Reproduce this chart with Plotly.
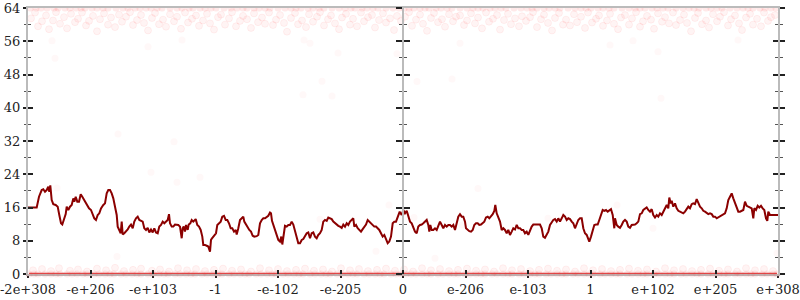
import plotly.graph_objects as go

# ---- axis ticks ----
tick_pos = [-375, -312.5, -250, -187.5, -125, -62.5, 0, 62.5, 125, 187.5, 250, 312.5, 375]
tick_text = ["-2e+308", "-e+206", "-e+103", "-1", "-e-102", "-e-205", "0",
             "e-206", "e-103", "1", "e+102", "e+205", "e+308"]

# ---- main (dark red) series: position along ordered-double axis, value ----
pos = [-375, -366.3, -364, -361.3, -359.7, -358, -356.3, -354.7, -353.7, -352.7, -351.3, -349.7, -347.3, -345.3,
       -343.7, -342, -340.7, -338.7, -337.3, -336.3, -334.7, -333, -331.3, -329.7, -328.7, -327.3, -325.7, -324,
       -322.3, -320.7, -318.7, -316.3, -314, -312, -310.3, -308.7, -307, -305.3, -303.7, -302, -299.7, -298,
       -296.3, -294.7, -293, -291.3, -289.7, -288, -286.3, -285.3, -283.7, -282.3, -281.3, -280.3, -278.7, -277,
       -275.3, -273.7, -272, -270.3, -268.7, -267, -265.3, -263.7, -262, -260.3, -258.7, -257, -255.3, -253.7,
       -252, -250.3, -248.7, -247, -245.3, -243.7, -242, -240.3, -238.7, -237, -235.3, -234, -233, -231.3,
       -229.7, -228, -226.3, -224.7, -223, -221.3, -220.3, -219.3, -218, -217, -215.3, -214.3, -212.7, -211.3,
       -209.7, -207.3, -205.7, -204, -202.3, -200.7, -199.7, -198, -196.3, -194.7, -193, -192,
       -191, -189, -187, -185.7, -184, -182.3, -180.7, -179, -177.3, -175.7, -174, -172.3, -170.7, -169, -167.3,
       -166.3, -164.7, -163, -161.3, -159.7, -158.7, -157, -155.3, -153.7, -152, -150.3, -148.7, -146.3, -144.7,
       -143, -141.3, -139.7, -138, -136.3, -134.7, -133, -132, -131, -129.7, -128, -126.3, -124.7, -123, -121.7,
       -120.7, -119.3, -118, -116.3, -114.7, -113, -111.3, -109.7, -108, -106.3, -104.7, -103, -101.3, -99.7,
       -98, -96.3, -94.7, -93, -91.3, -89.7, -88, -86.3, -84.7, -83, -81.3, -79.7, -78, -76.3, -74.7, -73,
       -71.3, -69.7, -68, -66.3, -64.7, -63, -61.3, -59.7, -58, -56.3, -54.7, -53, -51.3, -49.7, -48.7, -47,
       -45.3, -43.7, -42, -40.3, -38.7, -37, -35.3, -33.7, -32, -30.3, -28.7, -27, -25.3, -23.7, -22, -20.3,
       -18.7, -17, -15.3, -13.7, -12, -10.3, -8.7, -7, -5.3, -3.3,
       -3, -1.3, 0.3, 2, 3.7, 5.3, 7, 8.7, 10.3, 12, 13.7, 15.3, 17, 18.7, 20.3, 22, 23.7, 25.3, 26.3, 27.3,
       28.7, 30.3, 32, 33.7, 35.3, 37, 38.7, 40.3, 42, 43.7, 45.3, 47, 48.7, 50.3, 52, 53.7, 55.3, 57, 58.7,
       60.3, 62, 63, 64.7, 66.3, 68, 69.7, 71.3, 73, 74.7, 76.3, 78, 79.7, 81.3, 83, 84.7, 86.3, 88, 89.7,
       91.3, 92.3, 93.7, 95.3, 97, 98.7, 100.3, 102, 103.7, 105.3, 107, 108.7, 110.3, 112, 113.7, 115.3, 117,
       118.7, 120.3, 122, 123.7, 125.3, 127, 128.7, 130.3, 133.7, 137, 138.7, 140.3, 142, 143.7, 145.3, 147,
       148.7, 150.3, 152, 153.7, 155.3, 157, 158.7, 160.3, 162, 163.7, 165.3, 167, 168.7, 170.3, 172, 173.7,
       175.3, 177,
       178.7, 180.3, 182, 183.7, 185.3, 186.3, 188, 189.7, 191.3, 193, 194.7, 196.3, 198, 199.7, 201.3, 203,
       204.7, 206.3, 208, 209.7, 211.3, 212, 213.7, 215.3, 217, 218.7, 220.3, 222, 223.7, 225.3, 227, 228.7,
       230.3, 232, 233.7, 235.3, 237, 238.7, 240.3, 242, 243.7, 245.3, 247, 248.7, 250.3, 252, 253.7, 255.3,
       257, 258.7, 260.3, 262, 263.7, 265.3, 266.3, 267.7, 268.7, 270.3, 272, 273.7, 275.3, 277, 278.7, 280.3,
       282, 283.7, 285.3, 287, 288.7, 290.3, 292, 293.7, 295.3, 297, 298.7, 300.3, 302, 303.7, 305.3, 307,
       308.7, 310.3, 312, 313.7, 315.3, 317, 318.7, 320.3, 322, 323.7, 325.3, 327, 328.7, 330.3, 332, 333.7,
       335.3, 337, 338.7, 340.3, 342, 343.7, 345.3, 347, 348.7, 350.3, 351.3, 353, 354.7, 356.3, 358, 359.7,
       361.3, 363, 364.3, 365.3, 367, 370.3, 375]

val = [16.0, 16.0, 18.6, 20.2, 20.4, 19.8, 20.2, 21.0, 19.8, 21.3, 17.8, 16.8, 16.6, 16.2,
       14.2, 12.2, 11.9, 13.8, 14.4, 16.2, 15.4, 16.2, 16.6, 18.2, 17.4, 18.6, 17.4, 17.4,
       19.2, 18.6, 17.8, 17.0, 15.8, 15.4, 14.2, 13.4, 13.0, 14.2, 14.6, 15.8, 16.6, 17.0,
       19.4, 20.2, 20.2, 19.4, 18.2, 15.8, 14.2, 11.4, 10.6, 9.8, 12.6, 9.5, 9.8, 10.2,
       10.7, 11.4, 11.9, 11.0, 12.6, 13.4, 13.8, 13.0, 12.8, 12.6, 11.0, 10.6, 11.1, 10.0,
       10.7, 10.0, 11.0, 10.0, 9.8, 11.4, 11.8, 12.6, 12.2, 12.6, 13.0, 14.4, 12.2, 11.4,
       11.4, 11.9, 11.8, 11.8, 11.4, 8.6, 11.0, 11.4, 10.2, 11.8, 10.6, 11.9, 12.2, 13.0,
       12.6, 13.2, 11.8, 11.4, 10.6, 9.0, 7.0, 7.0, 6.8, 6.6, 5.4, 8.2,
       8.6, 9.2, 9.8, 11.8, 12.2, 12.6, 13.8, 14.0, 13.0, 13.0, 12.2, 11.0, 11.0, 10.2, 10.6,
       9.5, 11.0, 13.0, 13.4, 13.8, 12.6, 11.9, 11.4, 10.6, 10.2, 9.2, 9.0, 9.1, 9.4,
       12.2, 13.0, 13.4, 13.4, 13.8, 14.0, 14.8, 14.6, 12.8, 11.8, 10.2, 9.0, 8.2, 7.8, 9.0,
       7.1, 9.4, 11.6, 11.4, 11.8, 11.8, 12.6, 11.9, 10.2, 8.6, 7.4, 7.4, 8.2, 8.4,
       9.0, 9.8, 10.0, 8.6, 9.8, 10.0, 9.0, 8.6, 9.4, 9.8, 10.6, 12.6, 13.0, 12.8, 13.6, 13.4,
       13.2, 12.6, 12.2, 11.9, 11.6, 11.4, 11.1, 11.9, 11.4, 12.2, 11.8, 12.6, 13.0, 13.4, 11.4, 11.8,
       11.0, 10.6, 10.2, 10.8, 11.4, 11.9, 13.0, 12.6, 12.2, 11.8, 11.4, 11.4, 11.0, 10.6, 9.8, 9.0,
       9.4, 8.2, 7.4, 7.8, 9.0, 12.2, 12.6, 12.6, 13.8, 15.0,
       14.8, 14.2, 15.4, 14.6, 15.2, 13.8, 12.6, 12.2, 11.4, 10.2, 9.8, 11.4, 11.8, 11.9, 12.2, 12.6, 13.0, 11.8, 10.2, 11.8,
       10.6, 10.6, 11.0, 10.6, 11.4, 12.6, 11.8, 11.0, 11.8, 11.4, 11.8, 11.8, 11.4, 11.8, 10.6, 12.6, 13.8, 14.4, 13.8,
       13.8, 12.6, 11.0, 10.6, 10.3, 10.2, 10.6, 11.8, 12.2, 12.2, 11.8, 11.9, 12.2, 12.6, 13.6, 13.8, 13.4, 13.8, 14.4,
       15.2, 16.6, 14.6, 13.8, 12.6, 10.6, 11.0, 10.6, 9.8, 10.6, 9.4, 10.2, 11.0, 10.7, 11.8, 11.0, 11.0,
       10.6, 10.6, 9.8, 10.2, 9.4, 10.6, 11.4, 11.9, 11.9, 11.9, 11.0, 9.0, 8.7, 9.4, 10.2, 11.8,
       12.6, 13.0, 13.2, 12.6, 13.4, 12.6, 13.4, 14.2, 13.8, 13.0, 13.4, 13.2, 12.6, 12.2, 11.0, 12.2,
       13.0, 13.4,
       13.4, 11.0, 9.8, 9.4, 8.6, 7.8, 9.0, 10.2, 11.8, 11.9, 11.9, 13.0, 14.2, 15.4, 15.2, 15.4,
       15.0, 15.4, 15.6, 14.2, 11.0, 13.4, 11.8, 11.4, 11.1, 11.8, 12.6, 13.0, 12.6, 11.4, 11.1, 11.8,
       11.8, 11.9, 12.2, 12.6, 14.4, 14.6, 15.4, 15.8, 16.0, 15.4, 15.0, 15.6, 14.2, 13.6, 14.2, 13.8,
       14.6, 14.2, 15.0, 15.8, 16.6, 15.8, 18.4, 17.0, 17.6, 16.2, 17.0, 15.8, 15.2, 15.0, 14.8, 14.6,
       15.0, 15.8, 16.2, 15.8, 16.8, 17.0, 16.8, 18.0, 17.0, 16.2, 15.8, 15.2, 15.0, 14.6, 14.4, 14.6,
       14.4, 13.8, 13.8, 13.4, 13.6, 13.8, 14.2, 14.2, 14.6, 15.8, 17.8, 18.6, 19.4, 18.2, 17.0, 15.8,
       15.0, 15.0, 15.2, 15.4, 17.4, 16.4, 16.2, 16.0, 15.8, 13.4, 15.8, 15.4, 16.4, 16.0, 16.4, 15.8,
       15.4, 13.4, 12.8, 15.0, 14.2, 14.2, 14.2]

# ---- faint red sample points ----
zero_pos = [-374, -369, -365, -358, -352, -347, -343, -336, -331, -326, -320, -316, -309, -304, -298, -293,
            -289, -282, -277, -271, -266, -262, -255, -250, -244, -239, -235, -228, -223, -217, -212, -208,
            -201, -196, -190, -185, -181, -174, -169, -163, -158, -154, -147, -142, -136, -131, -127, -120,
            -115, -109, -104, -100, -93, -88, -82, -77, -73, -66, -61, -55, -50, -46, -39, -34, -28, -23,
            -19, -12, -7, -2, 3, 8, 13, 19, 24, 28, 35, 40, 46, 51, 55, 62, 67, 73, 78, 82, 89, 94, 100,
            105, 109, 116, 121, 127, 132, 136, 143, 148, 154, 159, 163, 170, 175, 181, 186, 190, 197, 202,
            208, 213, 217, 224, 229, 235, 240, 244, 251, 256, 262, 267, 271, 278, 283, 289, 294, 298, 305,
            310, 316, 321, 325, 332, 337, 343, 348, 352, 359, 364, 370, 374]

top_pos = [-373, -367, -362, -356, -349, -345, -338, -333, -327, -322, -318, -311, -306, -300, -295, -287,
           -280, -275, -268, -263, -257, -252, -246, -241, -233, -226, -221, -214, -210, -203, -198, -192,
           -187, -179, -172, -166, -160, -156, -149, -144, -138, -133, -125, -118, -112, -107, -102, -95,
           -90, -84, -79, -71, -64, -58, -52, -48, -41, -36, -30, -25, -17, -10, -4, 1, 6, 11, 17, 22, 26,
           33, 38, 44, 49, 57, 64, 70, 75, 80, 87, 92, 98, 103, 111, 118, 124, 129, 134, 141, 146, 152, 157,
           165, 172, 178, 183, 188, 195, 200, 206, 211, 219, 226, 232, 237, 242, 249, 254, 260, 265, 273,
           280, 286, 291, 296, 303, 308, 314, 319, 327, 334, 340, 345, 350, 357, 362, 368, 373]

upper_pts = [
    (-372, 61.5), (-368, 62.9), (-365, 59.6), (-361, 60.8), (-357, 62.2), (-354, 58.9), (-350, 61.0), (-347, 63.0), (-343, 60.2), (-339, 61.8),
    (-336, 59.1), (-332, 62.6), (-328, 60.6), (-325, 61.4), (-321, 62.9), (-317, 59.8), (-314, 60.9), (-310, 62.1), (-306, 58.4), (-303, 61.3),
    (-299, 62.7), (-295, 60.0), (-292, 61.7), (-288, 59.4), (-284, 62.4), (-281, 60.7), (-277, 61.9), (-273, 63.0), (-270, 59.9), (-266, 61.1),
    (-262, 62.3), (-259, 60.4), (-255, 58.6), (-251, 61.6), (-248, 62.8), (-244, 60.1), (-240, 61.2), (-237, 59.5), (-233, 62.5), (-229, 60.8),
    (-226, 61.9), (-222, 59.0), (-218, 62.9), (-215, 60.5), (-211, 61.4), (-207, 62.2), (-204, 59.7), (-200, 61.0), (-196, 62.6), (-193, 60.3),
    (-189, 58.8), (-185, 61.8), (-182, 62.4), (-178, 60.0), (-174, 61.5), (-171, 63.0), (-167, 59.6), (-163, 60.9), (-160, 62.1), (-156, 61.3),
    (-152, 59.2), (-149, 62.7), (-145, 60.6), (-141, 61.7), (-138, 60.2), (-134, 62.9), (-130, 59.9), (-127, 61.2), (-123, 62.3), (-119, 60.4),
    (-116, 58.3), (-112, 61.6), (-108, 62.8), (-105, 60.1), (-101, 61.0), (-97, 59.4), (-94, 62.5), (-90, 60.7), (-86, 61.9), (-83, 63.0),
    (-79, 59.8), (-75, 61.3), (-72, 62.2), (-68, 60.3), (-64, 58.9), (-61, 61.7), (-57, 62.6), (-53, 60.0), (-50, 61.4), (-46, 59.6),
    (-42, 62.9), (-39, 60.8), (-35, 61.8), (-31, 62.3), (-28, 59.3), (-24, 61.1), (-20, 62.7), (-17, 60.5), (-13, 61.5), (-9, 58.7),
    (-6, 62.1), (-2, 60.9), (2, 61.9), (6, 63.0), (9, 59.7), (13, 61.2), (17, 62.4), (20, 60.2), (24, 58.5), (28, 61.6),
    (31, 62.8), (35, 60.6), (39, 61.3), (42, 59.5), (46, 62.5), (50, 60.8), (53, 61.9), (57, 62.2), (61, 59.9), (64, 61.0),
    (68, 62.7), (72, 60.3), (75, 61.7), (79, 59.1), (83, 62.9), (86, 60.7), (90, 61.4), (94, 62.3), (97, 58.8), (101, 61.1),
    (105, 62.6), (108, 60.1), (112, 61.5), (116, 59.6), (119, 62.0), (123, 60.9), (127, 61.8), (130, 63.0), (134, 59.4), (138, 61.3),
    (141, 62.4), (145, 60.4), (149, 58.6), (152, 61.6), (156, 62.8), (160, 60.0), (163, 61.2), (167, 59.8), (171, 62.5), (174, 60.6),
    (178, 61.9), (182, 59.2), (185, 62.9), (189, 60.5), (193, 61.4), (196, 62.2), (200, 59.7), (204, 61.0), (207, 62.6), (211, 60.2),
    (215, 58.9), (218, 61.7), (222, 62.3), (226, 60.0), (229, 61.5), (233, 63.0), (237, 59.5), (240, 60.8), (244, 62.1), (248, 61.2),
    (251, 59.0), (255, 62.7), (259, 60.7), (262, 61.8), (266, 60.3), (270, 62.9), (273, 59.9), (277, 61.1), (281, 62.4), (284, 60.4),
    (288, 58.4), (292, 61.6), (295, 62.8), (299, 60.1), (303, 61.0), (306, 59.3), (310, 62.5), (314, 60.8), (317, 61.9), (321, 63.0),
    (325, 59.8), (328, 61.3), (332, 62.2), (336, 60.3), (339, 58.7), (343, 61.7), (347, 62.6), (350, 60.0), (354, 61.4), (358, 59.6),
    (361, 62.9), (365, 60.9), (368, 61.8), (372, 62.3),
]

low_pts = [
    (-370, 0.9), (-361, 1.2), (-352, 0.7), (-344, 1.4), (-333, 0.8), (-325, 1.1), (-316, 0.6), (-306, 1.3), (-297, 0.9), (-288, 1.5),
    (-279, 0.7), (-270, 1.0), (-262, 1.3), (-251, 0.8), (-243, 1.1), (-234, 0.6), (-225, 1.4), (-216, 0.9), (-207, 1.2), (-198, 0.7),
    (-189, 1.0), (-180, 1.3), (-171, 0.8), (-162, 1.1), (-152, 0.6), (-143, 1.4), (-134, 0.9), (-125, 1.2), (-116, 0.7), (-107, 1.0),
    (-98, 1.3), (-89, 0.8), (-80, 1.1), (-71, 0.6), (-62, 1.4), (-53, 0.9), (-44, 1.2), (-35, 0.7), (-26, 1.0), (-17, 1.3),
    (-8, 0.8), (1, 1.1), (10, 0.6), (19, 1.4), (28, 0.9), (37, 1.2), (46, 0.7), (55, 1.0), (64, 1.3), (73, 0.8),
    (82, 1.1), (91, 0.6), (100, 1.4), (109, 0.9), (118, 1.2), (127, 0.7), (136, 1.0), (145, 1.3), (154, 0.8), (163, 1.1),
    (172, 0.6), (181, 1.4), (190, 0.9), (199, 1.2), (208, 0.7), (217, 1.0), (226, 1.3), (235, 0.8), (244, 1.1), (253, 0.6),
    (262, 1.4), (271, 0.9), (280, 1.2), (289, 0.7), (298, 1.0), (307, 1.3), (316, 0.8), (325, 1.1), (334, 0.6), (343, 1.4),
    (352, 0.9), (361, 1.2), (370, 0.7),
]

stray_pts = [
    (-285, 33.7), (-229, 31.8), (-252, 24.5), (-226, 22.1), (-346, 20.7), (-203, 23.3), (-286, 4.2), (-83, 13.2),
    (-14, 16.6), (-27, 5.5), (75, 20.6), (11, 13.6), (145, 13.4), (59, 11.8), (32, 3.8), (214, 16.6), (250, 11.0),
    (374, 5.0), (-65, 53.2), (-81, 46.4), (14, 46.3), (49, 46.9), (-100, 43.1), (-71, 42.8), (-6, 53.0), (57, 55.5),
    (-99, 56.3), (-93, 55.5), (-351, 56.1), (-348, 51.9), (-255, 54.7), (-221, 56.3), (207, 55.1), (230, 56.1),
    (255, 53.5), (258, 42.3), (335, 56.3),
]

FONT = dict(family="DejaVu Serif, Liberation Serif, serif", size=13, color="#222")
FRAME = "#bbbbbb"
TICK = "#222222"

fig = go.Figure()

faint = dict(color="rgba(255,60,60,0.06)", size=7, line=dict(color="rgba(255,0,0,0.05)", width=1))

fig.add_trace(go.Scatter(x=[p[0] for p in upper_pts], y=[p[1] for p in upper_pts], mode="markers",
                         marker=faint, cliponaxis=False, hoverinfo="skip"))
fig.add_trace(go.Scatter(x=[p[0] for p in stray_pts], y=[p[1] for p in stray_pts], mode="markers",
                         marker=dict(color="rgba(255,60,60,0.035)", size=7), cliponaxis=False, hoverinfo="skip"))
fig.add_trace(go.Scatter(x=[p[0] for p in low_pts], y=[p[1] for p in low_pts], mode="markers",
                         marker=faint, cliponaxis=False, hoverinfo="skip"))
fig.add_trace(go.Scatter(x=top_pos, y=[64] * len(top_pos), mode="markers",
                         marker=dict(color="rgba(255,40,40,0.10)", size=7), cliponaxis=True, hoverinfo="skip"))
fig.add_trace(go.Scatter(x=zero_pos, y=[0] * len(zero_pos), mode="lines+markers",
                         line=dict(color="rgba(220,40,40,0.85)", width=2.5),
                         marker=dict(color="rgba(235,60,60,0.10)", size=7), cliponaxis=False, hoverinfo="skip"))
fig.add_trace(go.Scatter(x=pos, y=val, mode="lines", line=dict(color="#8b0000", width=2),
                         cliponaxis=True, hoverinfo="skip"))

# invisible anchors so the extra tick axes get drawn
for ax in ["x2", "y2", "y3", "y4", "y5", "y6"]:
    xa = "x2" if ax == "x2" else "x"
    ya = "y" if ax == "x2" else ax
    fig.add_trace(go.Scatter(x=pos[:1], y=val[:1], xaxis=xa, yaxis=ya, mode="markers",
                             marker=dict(opacity=0), hoverinfo="skip", showlegend=False))

yt = dict(range=[0, 64], tick0=0, dtick=8, showgrid=False, zeroline=False, tickcolor=TICK, tickwidth=1.5,
          automargin=False)
minor_out = dict(ticks="outside", dtick=4, tick0=0, ticklen=2, tickcolor="#555", tickwidth=1)
minor_in = dict(ticks="inside", dtick=4, tick0=0, ticklen=3, tickcolor="#555", tickwidth=1)

fig.update_layout(
    width=800, height=300,
    margin=dict(l=28, r=22, t=8, b=26, autoexpand=False),
    paper_bgcolor="white", plot_bgcolor="white",
    showlegend=False,
    font=FONT,
    xaxis=dict(range=[-375, 375], tickmode="array", tickvals=tick_pos, ticktext=tick_text, automargin=False,
               ticklabeloverflow="allow", layer="below traces",
               showgrid=False, zeroline=False, showline=True, linecolor=FRAME, linewidth=2, mirror=True,
               ticks="outside", ticklen=2, tickcolor=TICK, tickwidth=1.5, tickfont=FONT),
    xaxis2=dict(range=[-375, 375], overlaying="x", anchor="y", side="bottom", tickmode="array", automargin=False,
                tickvals=tick_pos, showticklabels=False, showgrid=False, zeroline=False, showline=False,
                ticks="inside", ticklen=4, tickcolor=TICK, tickwidth=1.5),
    yaxis=dict(**yt, showline=True, linecolor=FRAME, linewidth=2, ticks="outside", ticklen=3,
               minor=minor_out, tickfont=FONT, anchor="x", side="left", ticklabeloverflow="allow"),
    yaxis2=dict(**yt, overlaying="y", anchor="x", side="left", showline=False, ticks="inside", ticklen=5,
                minor=minor_in, showticklabels=False),
    yaxis3=dict(**yt, overlaying="y", anchor="free", position=0.5, side="left", showline=True,
                linecolor=FRAME, linewidth=2, ticks="outside", ticklen=6,
                minor=dict(minor_out, ticklen=3), showticklabels=False),
    yaxis4=dict(**yt, overlaying="y", anchor="free", position=0.5, side="left", showline=False,
                ticks="inside", ticklen=6, minor=dict(minor_in, ticklen=3), showticklabels=False),
    yaxis5=dict(**yt, overlaying="y", anchor="x", side="right", showline=True, linecolor=FRAME, linewidth=2,
                ticks="outside", ticklen=5, minor=dict(minor_out, ticklen=3), showticklabels=False),
    yaxis6=dict(**yt, overlaying="y", anchor="x", side="right", showline=False,
                ticks="inside", ticklen=5, minor=dict(minor_in, ticklen=3), showticklabels=False),
)

fig.write_html("out.html")
